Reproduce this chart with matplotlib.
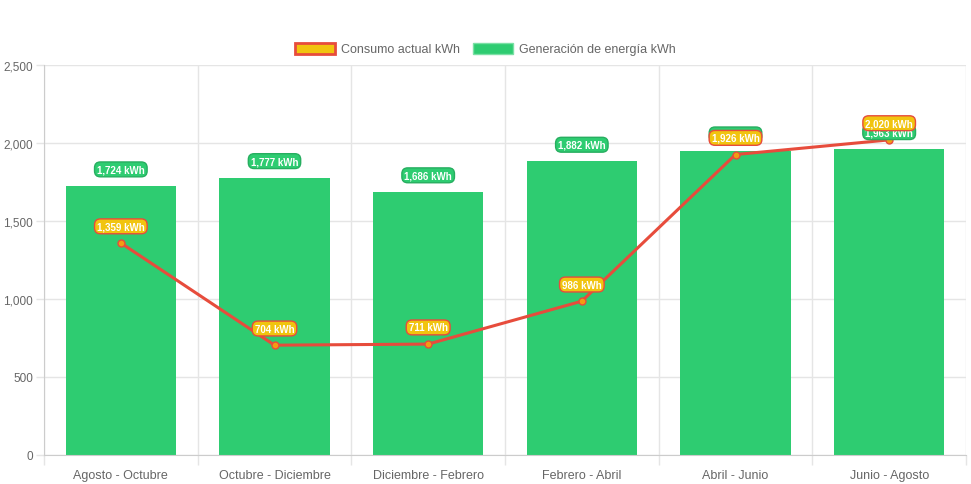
import numpy as np
import matplotlib.pyplot as plt
from matplotlib.patches import Patch

# Data
periodos = ['Agosto - Octubre', 'Octubre - Diciembre', 'Diciembre - Febrero',
            'Febrero - Abril', 'Abril - Junio', 'Junio - Agosto']
generacion = [1724, 1777, 1686, 1882, 1948, 1963]
consumo = [1359, 704, 711, 986, 1926, 2020]

verde = '#2ECC71'
rojo = '#E74C3C'
amarillo = '#F1C40F'

plt.rcParams['font.family'] = ['Liberation Sans', 'DejaVu Sans']

fig = plt.figure(figsize=(9.71, 4.85), dpi=100)
ax = fig.add_axes([44 / 971, 29 / 485, 922 / 971, 390 / 485])

x = np.arange(len(periodos))
ax.bar(x, generacion, width=0.72, color=verde, zorder=2,
       label='Generación de energía kWh')
ax.plot(x, consumo, color=rojo, linewidth=2.2, zorder=3,
        marker='o', markersize=5, markerfacecolor='#F39C12',
        markeredgecolor=rojo, markeredgewidth=1, label='Consumo actual kWh')

# value labels
for xi, v in zip(x, generacion):
    ax.annotate(f'{v:,} kWh', (xi, v), xytext=(0, 12), textcoords='offset points',
                ha='center', va='center', fontsize=7, fontweight='bold', color='white',
                zorder=4,
                bbox=dict(boxstyle='round,pad=0.25,rounding_size=0.6', fc=verde,
                          ec='#27AE60', lw=1))
for xi, v in zip(x, consumo):
    ax.annotate(f'{v:,} kWh', (xi, v), xytext=(0, 12), textcoords='offset points',
                ha='center', va='center', fontsize=7, fontweight='bold', color='white',
                zorder=5,
                bbox=dict(boxstyle='round,pad=0.25,rounding_size=0.6', fc=amarillo,
                          ec=rojo, lw=1))

ax.set_xlim(-0.5, len(periodos) - 0.5)
ax.set_ylim(0, 2500)
ax.set_yticks(np.arange(0, 2501, 500))
ax.set_yticklabels([f'{t:,}' for t in range(0, 2501, 500)])
ax.set_xticks(x)
ax.set_xticklabels(periodos)
ax.set_xticks(np.arange(-0.5, len(periodos)), minor=True)

ax.tick_params(axis='x', which='major', length=0, pad=10, labelsize=9, labelcolor='#666666')
ax.tick_params(axis='x', which='minor', length=7, color='#e5e5e5', width=1)
ax.tick_params(axis='y', length=6, color='#e5e5e5', width=1, pad=2,
               labelsize=8.5, labelcolor='#666666')

ax.grid(axis='y', color='#e5e5e5', linewidth=1, zorder=0)
ax.grid(axis='x', which='minor', color='#e5e5e5', linewidth=1, zorder=0)
ax.set_axisbelow(True)
for s in ['top', 'right']:
    ax.spines[s].set_visible(False)
for s in ['left', 'bottom']:
    ax.spines[s].set_color('#cccccc')

# legend
handles = [Patch(facecolor=amarillo, edgecolor=rojo, linewidth=2, label='Consumo actual kWh'),
           Patch(facecolor=verde, edgecolor='#7be0a5', linewidth=1, label='Generación de energía kWh')]
fig.legend(handles=handles, loc='center', bbox_to_anchor=(0.5, 1 - 50 / 485), ncol=2,
           frameon=False, fontsize=9, labelcolor='#666666', handlelength=3.2,
           handleheight=1.0, columnspacing=1.0, handletextpad=0.5)

fig.savefig('out.png', dpi=100)
